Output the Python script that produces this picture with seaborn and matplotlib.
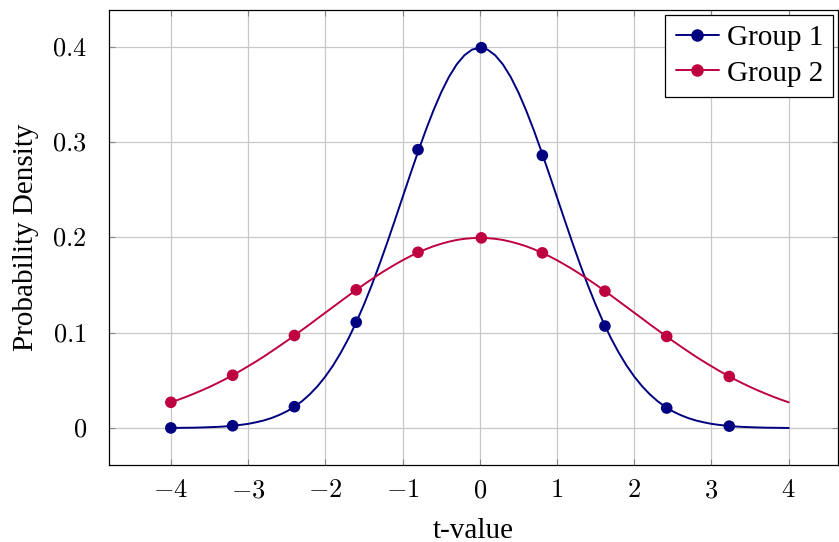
import numpy as np
import pandas as pd
import matplotlib
matplotlib.use("Agg")
import matplotlib.pyplot as plt
import seaborn as sns
from matplotlib.lines import Line2D

# curve values, t from -4 to 4 in steps of 0.1
t_curve = list(np.round(np.linspace(-4, 4, 81), 2))
group1_curve = [
    0.0001, 0.0002, 0.0003, 0.0004, 0.0006, 0.0009, 0.0012, 0.0017, 0.0024, 0.0033,
    0.0044, 0.0060, 0.0079, 0.0104, 0.0136, 0.0175, 0.0224, 0.0283, 0.0355, 0.0440,
    0.0540, 0.0656, 0.0790, 0.0940, 0.1109, 0.1295, 0.1497, 0.1714, 0.1942, 0.2179,
    0.2420, 0.2661, 0.2897, 0.3123, 0.3332, 0.3521, 0.3683, 0.3814, 0.3910, 0.3970,
    0.3989,
    0.3970, 0.3910, 0.3814, 0.3683, 0.3521, 0.3332, 0.3123, 0.2897, 0.2661, 0.2420,
    0.2179, 0.1942, 0.1714, 0.1497, 0.1295, 0.1109, 0.0940, 0.0790, 0.0656, 0.0540,
    0.0440, 0.0355, 0.0283, 0.0224, 0.0175, 0.0136, 0.0104, 0.0079, 0.0060, 0.0044,
    0.0033, 0.0024, 0.0017, 0.0012, 0.0009, 0.0006, 0.0004, 0.0003, 0.0002, 0.0001,
]
group2_curve = [
    0.0270, 0.0298, 0.0328, 0.0361, 0.0395, 0.0431, 0.0470, 0.0511, 0.0555, 0.0600,
    0.0648, 0.0697, 0.0748, 0.0802, 0.0857, 0.0913, 0.0971, 0.1030, 0.1089, 0.1150,
    0.1210, 0.1270, 0.1330, 0.1390, 0.1448, 0.1506, 0.1561, 0.1615, 0.1666, 0.1714,
    0.1760, 0.1802, 0.1841, 0.1876, 0.1907, 0.1933, 0.1955, 0.1973, 0.1985, 0.1992,
    0.1995,
    0.1992, 0.1985, 0.1973, 0.1955, 0.1933, 0.1907, 0.1876, 0.1841, 0.1802, 0.1760,
    0.1714, 0.1666, 0.1615, 0.1561, 0.1506, 0.1448, 0.1390, 0.1330, 0.1270, 0.1210,
    0.1150, 0.1089, 0.1030, 0.0971, 0.0913, 0.0857, 0.0802, 0.0748, 0.0697, 0.0648,
    0.0600, 0.0555, 0.0511, 0.0470, 0.0431, 0.0395, 0.0361, 0.0328, 0.0298, 0.0270,
]

# marker positions
t_marks = [-4.0, -3.2, -2.4, -1.6, -0.8, 0.02, 0.81, 1.62, 2.42, 3.23]
group1_marks = [0.0001, 0.0024, 0.0224, 0.111, 0.292, 0.399, 0.286, 0.107, 0.021, 0.002]
group2_marks = [0.0270, 0.0554, 0.0971, 0.1450, 0.1844, 0.1995, 0.1838, 0.1436, 0.0961, 0.0541]

groups = ["Group 1", "Group 2"]
colors = {"Group 1": "#000080", "Group 2": "#bf0040"}

curve_df = pd.DataFrame({
    "t": t_curve * 2,
    "density": group1_curve + group2_curve,
    "group": [groups[0]] * len(t_curve) + [groups[1]] * len(t_curve),
})
marks_df = pd.DataFrame({
    "t": t_marks * 2,
    "density": group1_marks + group2_marks,
    "group": [groups[0]] * len(t_marks) + [groups[1]] * len(t_marks),
})

sns.set_style("ticks")
plt.rcParams["font.family"] = ["Liberation Serif", "DejaVu Serif"]
plt.rcParams["mathtext.fontset"] = "cm"
plt.rcParams["text.color"] = "black"
plt.rcParams["axes.labelcolor"] = "black"

fig = plt.figure(figsize=(8.39, 5.42), dpi=100)
ax = fig.add_axes([0.130, 0.142, 0.869, 0.840])

sns.lineplot(data=curve_df, x="t", y="density", hue="group", palette=colors,
             linewidth=1.4, legend=False, ax=ax, sort=False, zorder=3)
sns.scatterplot(data=marks_df, x="t", y="density", hue="group", palette=colors,
                s=70, edgecolor="none", legend=False, ax=ax, zorder=4)

ax.set_xlim(-4.80, 4.64)
ax.set_ylim(-0.0388, 0.4388)
ax.set_xticks([-4, -3, -2, -1, 0, 1, 2, 3, 4])
ax.set_xticklabels([r"$%d$" % v if v >= 0 else r"$-%d$" % -v for v in range(-4, 5)])
ax.set_yticks([0, 0.1, 0.2, 0.3, 0.4])
ax.set_yticklabels([r"$0$", r"$0.1$", r"$0.2$", r"$0.3$", r"$0.4$"])
ax.grid(True, color="#c8c8c8", linewidth=0.9)
ax.set_axisbelow(True)
ax.tick_params(axis="both", direction="in", length=4, width=0.8, color="#888888",
               labelcolor="black", labelsize=19, top=True, right=True)
ax.tick_params(axis="x", pad=11)
ax.tick_params(axis="y", pad=16)
for sp in ax.spines.values():
    sp.set_linewidth(0.9)
    sp.set_color("black")

ax.set_xlabel("t-value", fontsize=21, labelpad=11)
ax.set_ylabel("Probability Density", fontsize=21, labelpad=9)

handles = [Line2D([0], [0], color=colors[g], marker="o", markersize=8, linewidth=1.4)
           for g in groups]
leg = ax.legend(handles, groups, loc="upper right", fontsize=21, frameon=True,
                fancybox=False, edgecolor="black", framealpha=1,
                handlelength=1.5, handletextpad=0.25, borderpad=0.35,
                labelspacing=0.3, borderaxespad=0.17)
leg.get_frame().set_linewidth(0.9)

fig.savefig("out.png", dpi=100)
